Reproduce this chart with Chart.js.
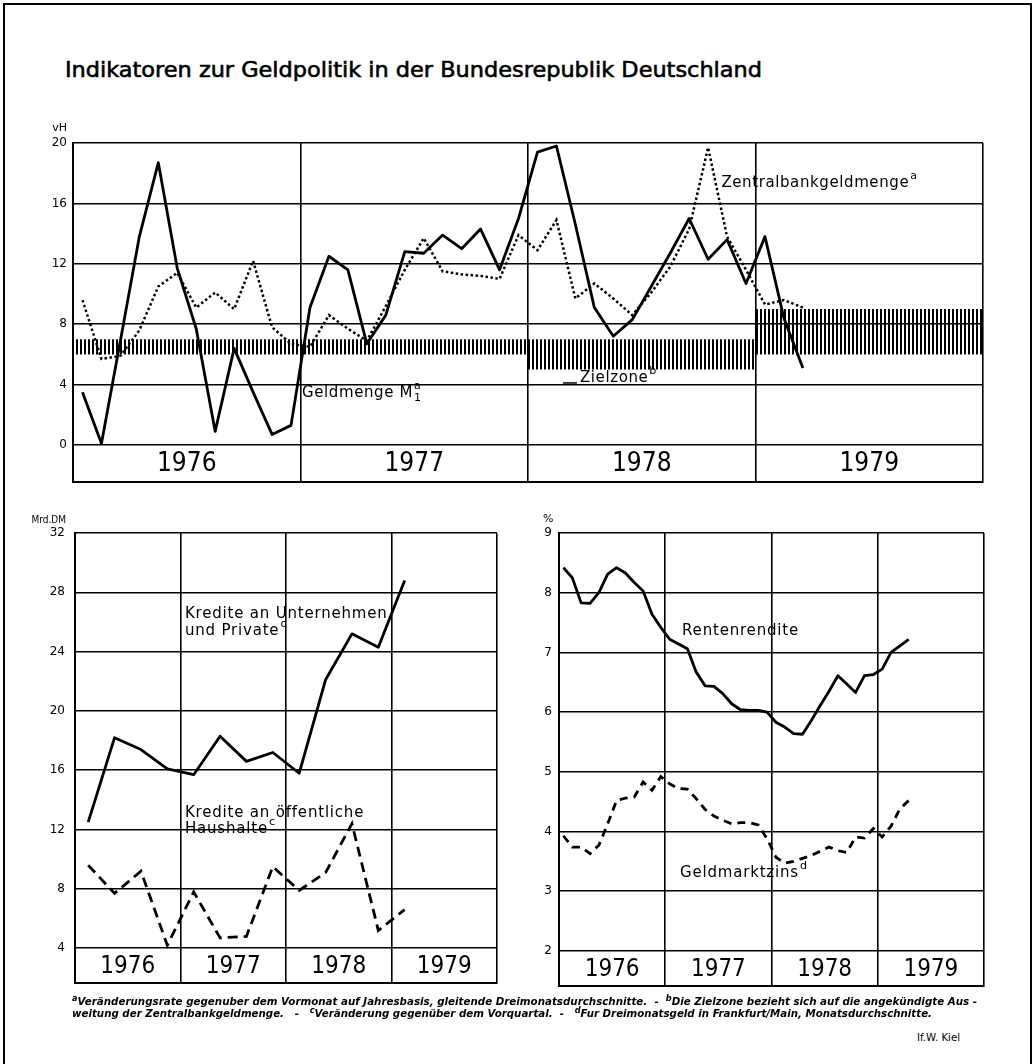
<!DOCTYPE html>
<html>
<head>
<meta charset="utf-8">
<script src="https://cdn.jsdelivr.net/npm/chart.js@4.4.1/dist/chart.umd.min.js"></script>
<style>
  body { margin:0; background:#fff; width:1035px; height:1064px; position:relative; overflow:hidden; font-family:"DejaVu Sans", sans-serif; color:#000; }
  #page { position:absolute; left:3px; top:3px; width:1025px; height:1100px; border:2px solid #000; border-bottom:none; }
  canvas { position:absolute; }
  .fit { position:absolute; white-space:nowrap; transform-origin:0 0; }
  #title { left:65px; top:58px; font-size:21px; line-height:24px; -webkit-text-stroke:0.6px #000; }
  .foot { left:72px; font-size:10px; line-height:12px; font-style:italic; font-weight:bold; }
  .foot sup { font-size:8px; vertical-align:4px; line-height:0; }
  #kiel { left:917px; top:1032px; font-size:10px; line-height:12px; }
</style>
</head>
<body>
<div id="page"></div>
<div id="title" class="fit" data-w="697">Indikatoren zur Geldpolitik in der Bundesrepublik Deutschland</div>
<canvas id="top" width="1035" height="400" style="left:0;top:100px;width:1035px;height:400px"></canvas>
<canvas id="credit" width="520" height="500" style="left:0;top:500px;width:520px;height:500px"></canvas>
<canvas id="rates" width="515" height="500" style="left:520px;top:500px;width:515px;height:500px"></canvas>
<div class="fit foot" style="top:996px" data-w="905"><sup>a</sup>Veränderungsrate gegenuber dem Vormonat auf Jahresbasis, gleitende Dreimonatsdurchschnitte.&nbsp; - &nbsp;<sup>b</sup>Die Zielzone bezieht sich auf die angekündigte Aus -</div>
<div class="fit foot" style="top:1008px" data-w="860">weitung der Zentralbankgeldmenge.&nbsp;&nbsp; - &nbsp;&nbsp;<sup>c</sup>Veränderung gegenüber dem Vorquartal.&nbsp; - &nbsp;&nbsp;<sup>d</sup>Fur Dreimonatsgeld in Frankfurt/Main, Monatsdurchschnitte.</div>
<div id="kiel" class="fit" data-w="43">If.W. Kiel</div>
<script>
// years on every panel
var years = ['1976', '1977', '1978', '1979'];

// top panel: monthly rates, Jan 1976 - Mar 1979 (vH)
var m1Values = [3.5, 0.1, 6.9, 13.8, 18.7, 11.7, 7.7, 0.9, 6.4, 3.5, 0.7, 1.3,
                9.1, 12.5, 11.6, 6.7, 8.6, 12.8, 12.7, 13.9, 13.0, 14.3, 11.6, 15.0,
                19.4, 19.8, 14.6, 9.1, 7.2, 8.3, 10.5, 12.7, 15.0, 12.3, 13.6, 10.7,
                13.8, 8.4, 5.1];
var zbgValues = [9.6, 5.7, 5.9, 7.6, 10.5, 11.4, 9.1, 10.1, 9.0, 12.2, 7.8, 6.7,
                 6.5, 8.6, 7.7, 6.9, 9.2, 11.6, 13.7, 11.5, 11.3, 11.2, 11.0, 13.9,
                 12.9, 14.9, 9.7, 10.7, 9.7, 8.6, 10.1, 11.8, 14.3, 19.7, 13.8, 11.6,
                 9.3, 9.6, 9.1];
// Zielzone bands (month from Jan 1976)
var zoneStart = [0, 24, 36];
var zoneEnd = [24, 36, 48];
var zoneLow = [6, 5, 6];
var zoneHigh = [7, 7, 9];
var topTicks = [0, 4, 8, 12, 16, 20];

// bottom left: quarterly, Mrd. DM
var unternehmen = [12.5, 18.2, 17.4, 16.1, 15.7, 18.3, 16.6, 17.2, 15.8, 22.1, 25.2, 24.3, 28.8];
var haushalte = [9.6, 7.7, 9.2, 4.2, 7.8, 4.7, 4.8, 9.5, 7.9, 9.1, 12.4, 5.2, 6.6];
var creditTicks = [4, 8, 12, 16, 20, 24, 28, 32];

// bottom right: monthly, %
var rendite = [8.42, 8.25, 7.83, 7.82, 8.0, 8.31, 8.42, 8.33, 8.17, 8.03, 7.64, 7.42,
               7.22, 7.14, 7.06, 6.67, 6.44, 6.43, 6.31, 6.14, 6.04, 6.03, 6.03, 6.0,
               5.83, 5.75, 5.64, 5.63, 5.86, 6.11, 6.35, 6.61, 6.47, 6.33, 6.61, 6.63,
               6.72, 7.0, 7.11, 7.22];
var geldmarkt = [3.93, 3.74, 3.74, 3.63, 3.77, 4.13, 4.52, 4.56, 4.58, 4.83, 4.69, 4.92,
                 4.80, 4.72, 4.71, 4.55, 4.37, 4.26, 4.19, 4.13, 4.15, 4.15, 4.11, 3.88,
                 3.57, 3.47, 3.50, 3.55, 3.60, 3.67, 3.74, 3.68, 3.65, 3.91, 3.89, 4.05,
                 3.91, 4.09, 4.38, 4.52];
var rateTicks = [2, 3, 4, 5, 6, 7, 8, 9];

function pts(arr) {
  return arr.map(function(v, i) { return {x: i + 0.5, y: v}; });
}

// vertical hatching for the target zone
var pc = document.createElement('canvas');
pc.width = 4; pc.height = 4;
var pctx = pc.getContext('2d');
pctx.fillStyle = '#000';
pctx.fillRect(0, 0, 2, 4);
var hatch = pctx.createPattern(pc, 'repeat');

// year labels, notes and unit label
var deco = {
  id: 'deco',
  afterDraw: function(chart, args, o) {
    var ctx = chart.ctx, xs = chart.scales.x, ys = chart.scales.y, a = chart.chartArea;
    ctx.save();
    ctx.fillStyle = '#000';
    ctx.strokeStyle = '#000';
    ctx.textBaseline = 'middle';
    ctx.textAlign = 'center';
    ctx.font = o.yearFont;
    var yc = (ys.getPixelForValue(o.bandTop) + a.bottom) / 2 + 1;
    o.years.forEach(function(t, k) {
      ctx.fillText(t, xs.getPixelForValue((k + 0.5) * o.yearLen), yc);
    });
    ctx.textAlign = 'left';
    o.notes.forEach(function(n) {
      var x = xs.getPixelForValue(n.x), y = ys.getPixelForValue(n.y);
      ctx.font = o.noteFont;
      ctx.letterSpacing = o.spacing;
      ctx.fillText(n.text, x, y);
      var w = ctx.measureText(n.text).width;
      ctx.letterSpacing = '0px';
      ctx.font = o.supFont;
      if (n.sub) ctx.fillText(n.sub, x + w + 1, y + 5);
      if (n.sup) ctx.fillText(n.sup, x + w + 1, y - 7);
      if (n.lead) {
        ctx.lineWidth = 1.5;
        ctx.beginPath();
        ctx.moveTo(x - 17, y + 5);
        ctx.lineTo(x - 3, y + 5);
        ctx.stroke();
      }
    });
    ctx.font = o.unitFont;
    ctx.textAlign = o.unit.align;
    ctx.fillText(o.unit.text, o.unit.x, o.unit.y);
    ctx.restore();
  }
};

function makeChart(id, c) {
  return new Chart(document.getElementById(id), {
    type: 'line',
    data: {datasets: c.datasets},
    plugins: [deco],
    options: {
      responsive: false,
      animation: false,
      devicePixelRatio: 1,
      layout: {padding: c.padding},
      elements: {point: {radius: 0}, line: {tension: 0, fill: false}},
      plugins: {
        legend: {display: false},
        tooltip: {enabled: false},
        deco: c.deco
      },
      scales: {
        x: {
          type: 'linear', min: 0, max: c.xMax,
          afterBuildTicks: function(s) {
            var t = [];
            for (var v = 0; v <= c.xMax; v += c.yearLen) t.push({value: v});
            s.ticks = t;
          },
          afterFit: function(s) { s.height = 0; },
          ticks: {display: false},
          grid: {color: '#000', lineWidth: 1.6, drawTicks: false},
          border: {display: true, color: '#000', width: 2}
        },
        y: {
          min: c.yMin, max: c.yMax,
          afterBuildTicks: function(s) {
            s.ticks = c.yTicks.map(function(v) { return {value: v}; });
          },
          afterFit: function(s) { s.width = c.axisWidth; },
          ticks: {color: '#000', padding: c.tickPad, font: {family: 'DejaVu Sans', size: 12}},
          grid: {color: '#000', lineWidth: 1.6, drawTicks: false},
          border: {display: true, color: '#000', width: 2}
        }
      }
    }
  });
}

// top panel datasets
var topSets = [
  {data: pts(m1Values), borderColor: '#000', borderWidth: 2.8, borderJoinStyle: 'round', order: 1},
  {data: pts(zbgValues), borderColor: '#000', borderWidth: 2.5, borderDash: [2.5, 2.5], order: 2}
];
zoneStart.forEach(function(s, i) {
  topSets.push({data: [{x: s, y: zoneHigh[i]}, {x: zoneEnd[i], y: zoneHigh[i]}],
    borderWidth: 0, borderColor: 'rgba(0,0,0,0)', backgroundColor: hatch, fill: '+1', order: 5});
  topSets.push({data: [{x: s, y: zoneLow[i]}, {x: zoneEnd[i], y: zoneLow[i]}],
    borderWidth: 0, borderColor: 'rgba(0,0,0,0)', order: 5});
});

makeChart('top', {
  datasets: topSets,
  padding: {left: 0, top: 43, right: 52, bottom: 18},
  axisWidth: 73, tickPad: 6,
  xMax: 48, yearLen: 12, yMin: -2.45, yMax: 20, yTicks: topTicks,
  deco: {
    years: years, yearLen: 12, bandTop: 0,
    yearFont: '26px "Liberation Sans Narrow", "DejaVu Sans Condensed", sans-serif',
    noteFont: '15px "DejaVu Sans", sans-serif', supFont: '11px "DejaVu Sans", sans-serif', spacing: '0.6px',
    unitFont: '11px "DejaVu Sans", sans-serif',
    unit: {text: 'vH', x: 67, y: 28, align: 'right'},
    notes: [
      {text: 'Zentralbankgeldmenge', sup: 'a', x: 34.2, y: 17.35},
      {text: 'Geldmenge M', sub: '1', sup: 'a', x: 12.08, y: 3.44},
      {text: 'Zielzone', sup: 'b', x: 26.74, y: 4.44, lead: true}
    ]
  }
});

makeChart('credit', {
  datasets: [
    {data: pts(unternehmen), borderColor: '#000', borderWidth: 2.8, borderJoinStyle: 'round'},
    {data: pts(haushalte), borderColor: '#000', borderWidth: 2.8, borderDash: [10, 6]}
  ],
  padding: {left: 0, top: 33, right: 23, bottom: 12},
  axisWidth: 75, tickPad: 10,
  xMax: 16, yearLen: 4, yMin: 1.67, yMax: 32, yTicks: creditTicks,
  deco: {
    years: years, yearLen: 4, bandTop: 4,
    yearFont: '24px "Liberation Sans Narrow", "DejaVu Sans Condensed", sans-serif',
    noteFont: '15px "DejaVu Sans", sans-serif', supFont: '11px "DejaVu Sans", sans-serif', spacing: '0.8px',
    unitFont: '10px "DejaVu Sans Condensed", sans-serif',
    unit: {text: 'Mrd.DM', x: 66, y: 20, align: 'right'},
    notes: [
      {text: 'Kredite an Unternehmen', x: 4.17, y: 26.53},
      {text: 'und Private', sup: 'c', x: 4.17, y: 25.4},
      {text: 'Kredite an öffentliche', x: 4.17, y: 13.13},
      {text: 'Haushalte', sup: 'c', x: 4.17, y: 12.0}
    ]
  }
});

makeChart('rates', {
  datasets: [
    {data: pts(rendite), borderColor: '#000', borderWidth: 2.8, borderJoinStyle: 'round'},
    {data: pts(geldmarkt), borderColor: '#000', borderWidth: 2.8, borderDash: [8, 6]}
  ],
  padding: {left: 0, top: 33, right: 51, bottom: 12},
  axisWidth: 39, tickPad: 7,
  xMax: 48, yearLen: 12, yMin: 1.417, yMax: 9, yTicks: rateTicks,
  deco: {
    years: years, yearLen: 12, bandTop: 2,
    yearFont: '24px "Liberation Sans Narrow", "DejaVu Sans Condensed", sans-serif',
    noteFont: '15px "DejaVu Sans", sans-serif', supFont: '11px "DejaVu Sans", sans-serif', spacing: '0.8px',
    unitFont: '11px "DejaVu Sans", sans-serif',
    unit: {text: '%', x: 23, y: 19, align: 'left'},
    notes: [
      {text: 'Rentenrendite', x: 13.9, y: 7.35},
      {text: 'Geldmarktzins', sup: 'd', x: 13.67, y: 3.3}
    ]
  }
});

// squeeze text blocks to their printed widths
document.querySelectorAll('.fit').forEach(function(el) {
  var target = parseFloat(el.getAttribute('data-w'));
  var w = el.getBoundingClientRect().width;
  if (w > 0) el.style.transform = 'scaleX(' + (target / w) + ')';
});
</script>
</body>
</html>
